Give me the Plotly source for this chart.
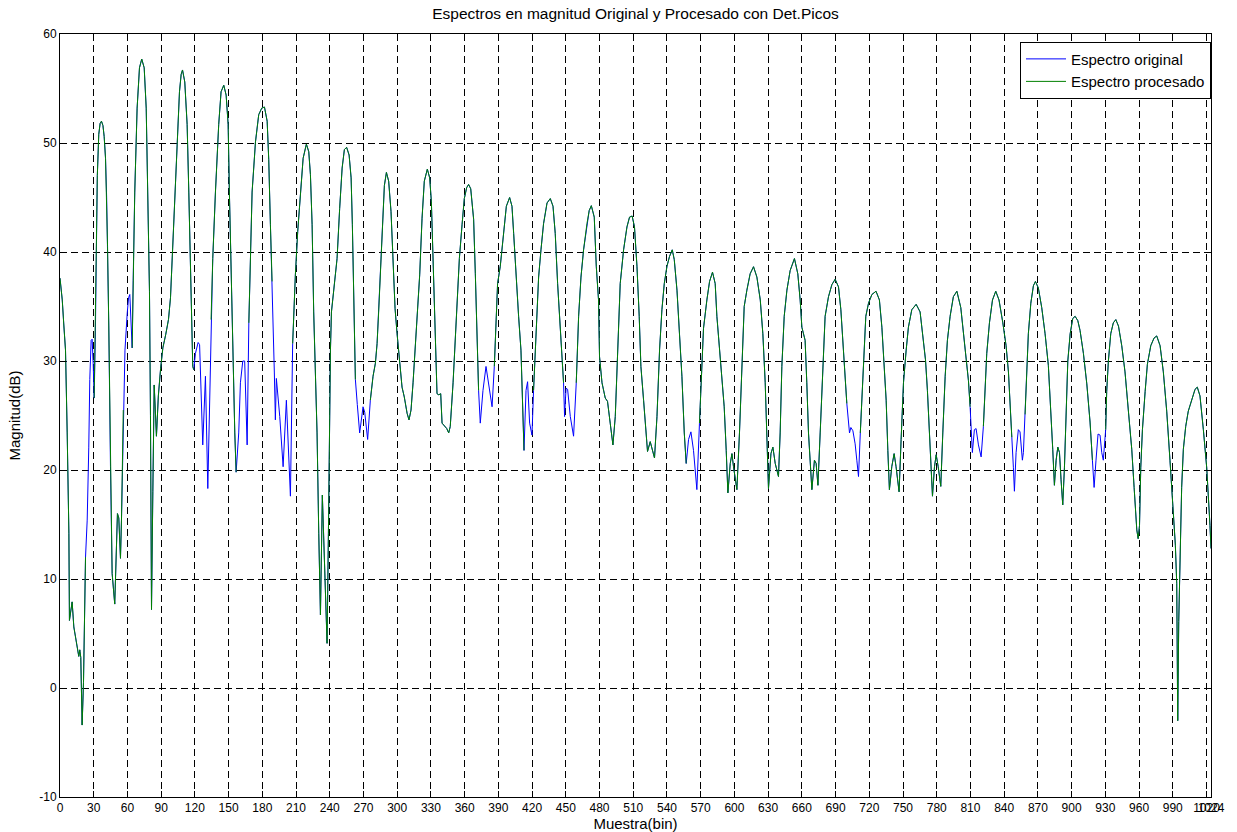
import plotly.graph_objects as go

# ---- data ----
orig_bins = [
    0, 2, 3.4, 4.9, 6.4, 7.9, 8.4, 10.8, 12.3, 14.4, 16.7, 17.6, 18.5, 19.7, 20.9, 22.7, 24.2, 25.6, 26.5, 27.7,
    28.6, 29.5, 30.4, 31.4, 32.4, 33.2, 34.5, 35.7, 36.9, 38.2, 39.3, 40.5, 41.5, 42.3, 43.4, 44.9, 46.4, 48.7,
    50, 51.1, 52.3, 53.8, 54.7, 56.3, 57.8, 59.8, 61, 62.1, 63, 64.2, 65.1, 66.5, 68.6, 70.7, 72.7, 74.9, 76.7,
    78.1, 79.6, 80.5, 81.4, 82.6, 83.8, 85.8, 87.5, 89.5, 91.5, 94, 96.5, 98.3, 101.2, 104.2, 106.3, 107.8, 109,
    111, 113.1, 114.6, 116.4, 118.1, 119, 120.5, 122.9, 124.2, 127, 129.4, 131.5, 134.4, 135.9, 138.3, 141.2,
    143.3, 145.7, 147.8, 149.6, 150.7, 152.5, 155.5, 156.7, 159, 160.5, 162.6, 164.3, 166.5, 168.0, 170.9, 173.9,
    176.8, 179.5, 181.9, 184.3, 185.7, 187.2, 188.7, 189.6, 190.7, 191.6, 192.5, 195.5, 198.5, 201.4, 205, 207,
    208.2, 209.4, 211.5, 213.9, 216.3, 219.2, 221.3, 222.8, 224.3, 225.7, 227.2, 228.7, 230.2, 231.7, 233.4,
    235.2, 237.6, 238.8, 239.7, 240.6, 241.5, 244.1, 246.5, 248.8, 251, 253, 255, 257.2, 259, 260.1, 261.5,
    262.8, 264.5, 266.6, 269.6, 271.1, 273.7, 276.1, 278.5, 280.6, 282.1, 283.5, 285, 286.8, 288.6, 290.4,
    292.4, 294.5, 296.3, 298.1, 299.9, 302.2, 304.3, 306.3, 308.8, 310.5, 312.3, 314.1, 316.1, 317.7, 320,
    322.1, 324.1, 326.8, 328.9, 330.4, 331.9, 333.3, 334.5, 335.4, 337, 338.7, 339.9, 342.2, 344.1, 345.8,
    347.2, 349.7, 351.7, 353.2, 355.3, 357.7, 359.7, 361.8, 363.5, 365.4, 368, 369.5, 371, 372.4, 373.9, 376.3,
    379, 381.3, 384.4, 386.4, 388.2, 389.3, 391.7, 394.7, 397.1, 400, 402.1, 403.6, 406, 408, 410.1, 411.6,
    412.8, 414.6, 416, 417.8, 419.9, 421.3, 422.9, 424.4, 425.8, 427.9, 430.2, 433.3, 436.2, 438.6, 440.6,
    442.7, 444.5, 446.6, 448, 448.9, 450.2, 451.6, 454, 456.9, 459.3, 461.4, 463.5, 465.8, 468.8, 470.8, 472.7,
    475.3, 477.1, 479.1, 480, 482.2, 485.1, 487.1, 489.5, 491.9, 494, 496.1, 498.4, 501.4, 504.4, 506.7, 509,
    511.1, 513.3, 515.3, 516.8, 519.2, 521.3, 522.7, 525.1, 527.5, 528.9, 531.1, 533.4, 535.5, 537.6, 540,
    542.3, 544.7, 546.5, 548.9, 551.2, 553.3, 555.4, 557.1, 559.2, 561.3, 563.6, 566.6, 568.9, 570.2, 572.5,
    575.5, 577.9, 580.5, 582.9, 584.4, 586.7, 588.9, 590.9, 592.7, 594.2, 596.3, 597.8, 599.2, 602.2, 604.5,
    606.7, 608.7, 611.1, 614, 617, 620, 623, 625.3, 627.4, 628.9, 630.3, 632.5, 634.2, 636.3, 639.2, 640.7,
    642.2, 644.3, 646.7, 649.6, 653.4, 656.4, 658.5, 660, 662.9, 664.4, 665.9, 668.9, 671.2, 672.7, 674.3,
    676.3, 678.7, 680.7, 683.7, 686.7, 689.6, 692.6, 694.7, 697, 698.5, 700, 702.4, 703.6, 705.4, 707.4, 708.9,
    710.4, 712, 714, 715.4, 716.9, 719.3, 722.3, 726, 729, 731.2, 733.2, 735, 736.5, 737.9, 740, 742.1, 743.8,
    746.5, 748.3, 750.4, 752.8, 754.8, 757.8, 761.7, 765.2, 767.6, 770, 771.7, 773.5, 775, 776.2, 778, 779.5,
    781.3, 783.6, 785.4, 787.5, 789.5, 791.9, 794.8, 797.9, 801.4, 803.7, 806.1, 808.2, 809.7, 810.6, 811.7,
    813.5, 815, 817.1, 819.5, 821.5, 823, 824.5, 826.9, 829.6, 832.5, 835.4, 838.8, 841.7, 843.8, 845.3, 846.8,
    848.2, 849.1, 850.6, 852.6, 854.1, 856.2, 857.1, 858.6, 860.1, 861.5, 863.7, 866, 867.8, 870.4, 873.4,
    876.4, 879.3, 881.7, 883.2, 884.7, 886.2, 887.7, 889.2, 890.6, 892.1, 893.6, 895.1, 896.6, 898.7, 901,
    903.1, 905.5, 907.5, 910.5, 913.5, 916.4, 918.5, 920, 921.7, 923.5, 925.3, 926.8, 928.2, 929.1, 930.3,
    931.2, 932.7, 934.8, 937.1, 939.3, 941.7, 944.6, 947.5, 950.5, 953.5, 955.6, 958, 959.2, 960.4, 961.5, 963,
    965.4, 967.4, 970.4, 973.3, 975.7, 978.7, 981.6, 984.6, 987.5, 990.5, 992.3, 993.5, 994.4, 995.3, 996.4,
    997.9, 999.4, 1001.5, 1003.8, 1006.8, 1009.8, 1011.8, 1014.2, 1017.2, 1020.2, 1023.1, 1024,
]

orig_mag = [
    37.6, 35.6, 33.3, 31, 23.4, 14.2, 6.2, 7.9, 5.6, 4.4, 2.9, 3.5, 2.8, -3.4, 0.5, 12.0, 15.4, 22.1, 28.3, 31.9,
    32, 29.8, 26.6, 32, 41, 47, 50.8, 51.8, 52, 51.6, 50.6, 48.6, 45, 40.5, 33.3, 20.3, 10.5, 7.7,
    11.7, 16, 15.6, 11.9, 15.4, 25.5, 31, 34.4, 35.8, 36.1, 34.5, 31.2, 37.4, 45.5, 53.2, 56.9, 57.7, 56.9, 53.2,
    45.5, 36.4, 25, 7.2, 18, 27.8, 23.1, 26.8, 29.3, 31.2, 32.4, 33.8, 35.8, 42.5, 48.6, 54.7, 56.3, 56.7,
    55.6, 51.7, 45.5, 36, 29.5, 29.2, 30.7, 31.7, 31.5, 22.3, 28.6, 18.3, 33.8, 39.4, 45.5, 51.7,
    54.7, 55.3, 54.4, 51.7, 45.5, 36, 23.4, 19.8, 23.4, 28, 30, 30, 22.3, 33.5, 45.5, 50.1,
    52.6, 53.2, 53.3, 52, 48.5, 42.5, 37.3, 34, 28.9, 24.6, 28.4, 24.9, 20.3, 26.4, 17.6, 31.6,
    35.6, 37.9, 41.9, 45.5, 48.6, 49.9, 49.2, 47.1, 42.5, 34.5, 29.5, 23.4, 14.2, 6.7, 17.7,
    11.1, 4.1, 14.2, 23.4, 31, 34.5, 37.3, 39.4, 44, 47.7, 49.4, 49.6, 48.9, 46.8, 42.5, 33,
    28.3, 26, 23.4, 25.8, 25.3, 22.8, 26.4, 28.6, 29.8, 31.6, 34.5, 37.9, 42.5, 46.1, 47.3,
    46.5, 43.7, 39.4, 34.8, 32.5, 30.1, 27.6, 26.7, 25.2, 24.6, 25.5, 28, 31.6, 34.5, 37.9,
    43.1, 46.5, 47.6, 46.8, 44.6, 39.4, 33.3, 29.5, 27, 26.9, 27, 24.3, 24, 23.8, 23.4,
    24, 28, 32.5, 35, 39.4, 42.5, 44.9, 45.9, 46.2, 45.8, 43, 38, 31, 27.3, 24.3, 27.3,
    29.5, 28, 25.8, 29.5, 35.6, 37.1, 38.7, 41.7, 44.2, 45, 44.2, 41.7, 37.1, 34.1, 31, 26.4,
    21.8, 27.3, 28.1, 24.3, 23.2, 27.3, 31, 35.6, 37.7, 40.2, 42.6, 44.5, 44.9, 44.2, 41.7,
    37.1, 34.1, 30.4, 28, 24.9, 27.5, 27.4, 24.9, 23.1, 28, 34.1, 37.7, 40.2, 42.6, 43.8, 44.25,
    43.2, 38.7, 35.6, 30.4, 28, 26.6, 26.3, 24.3, 22.3, 24.9, 31, 37.1, 40.2, 42.3, 43.2, 43.3,
    42.3, 38.7, 34.1, 29.5, 26.4, 23.4, 21.7, 22.6, 21.5, 21.1, 24.9, 31, 34.7, 37.1, 38.7,
    39.6, 40.2, 39.3, 36.5, 32.5, 28.6, 23.4, 20.6, 22.8, 23.5, 21.8, 18.2, 24.3, 28, 33,
    35.6, 37.3, 38.15, 37.1, 34.1, 31, 28.9, 25.8, 21.8, 17.9, 20.6, 21.5, 20.3, 18.2, 23.4,
    29.5, 35, 36.5, 38, 38.65, 37.7, 35.6, 32.5, 28, 23.4, 18.3, 21.5, 22.1, 20.6, 19.4, 23.4,
    29.5, 34.1, 36.5, 38.3, 39.4, 38, 35.6, 33.1, 31.9, 28, 23.4, 18.2, 20.9, 20.6, 18.6,
    23.4, 29.5, 34.1, 35.9, 37, 37.5, 36.8, 34.7, 31, 28.6, 26.1, 23.4, 23.9, 23.6, 22.4, 20.9,
    19.4, 23.4, 28, 31.9, 34.1, 35.3, 36.1, 36.4, 35.6, 33.1, 29.5, 26.4, 21.8, 18.2, 20.3, 21.5, 20.3,
    18, 22.8, 28, 31, 33.1, 34.7, 35.2, 34.5, 32.5, 30.1, 27.3, 23.4, 19.7, 17.6, 20.3, 21.4,
    20.3, 18.5, 23.4, 28.6, 31.9, 34.1, 35.9, 36.4, 34.9, 32.8, 30.7, 28.2, 25.8, 23.7, 21.6,
    23.7, 23.8, 22.3, 21.2, 24, 27.9, 30.7, 33.5, 35.6, 36.4, 35.6, 33.5, 31.4, 29, 26.5, 23,
    20.2, 18.05, 21.6, 23.7, 23.5, 20.9, 21.6, 25.1, 29, 32.5, 35.3, 36.9, 37.3, 36.7, 34.9,
    32.5, 29.6, 25.4, 21.9, 18.6, 20.9, 22.1, 21.6, 19.1, 16.8, 20.2, 25.4, 30, 32.5, 33.9,
    34.1, 33.7, 32.8, 30.7, 27.9, 24.4, 20.9, 18.4, 20.9, 23.3, 23.2, 21.6, 20.9, 22.3, 23.7,
    27.2, 30, 32.5, 33.5, 33.8, 33.2, 31.4, 29, 25.4, 21.9, 18.4, 14.5, 13.7, 14.9, 20.2, 23.7,
    27.2, 29.7, 31.4, 32.1, 32.3, 31.4, 29, 25.4, 20.9, 15.9, 13.1, 9.6, -3.0, 6.1, 13.1,
    18.4, 21.9, 24, 25.4, 26.5, 27.4, 27.6, 26.8, 23.7, 20.2, 14.9, 12.8,
]

# bin ranges (exclusive) where the processed spectrum has no value (blue shows alone)
proc_gaps = [
    (22.7, 30.4), (56.3, 64.2), (119, 134.4), (156.7, 168.0), (188.7, 207),
    (262.8, 276.1), (372.4, 386.4), (412.8, 421.3), (448, 459.3), (557.1, 568.9),
    (700, 712), (809.7, 821.5), (846.8, 858.6), (918.5, 930.3),
]

x_ticks = list(range(0, 1021, 30)) + [1024]
y_ticks = list(range(-10, 61, 10))

title_text = "Espectros en magnitud Original y Procesado con Det.Picos"
x_title = "Muestra(bin)"
y_title = "Magnitud(dB)"
names = ["Espectro original", "Espectro procesado"]

# ---- build processed series ----
proc_mag = []
for b, m in zip(orig_bins, orig_mag):
    if any(a < b < e for a, e in proc_gaps):
        proc_mag.append(None)
    else:
        proc_mag.append(m)

font_family = "Liberation Sans, Arial, sans-serif"
label_size = 15

fig = go.Figure()
fig.add_trace(go.Scatter(x=orig_bins, y=orig_mag, mode="lines", name=names[0],
                         line=dict(color="#0000FF", width=1)))
fig.add_trace(go.Scatter(x=orig_bins, y=proc_mag, mode="lines", name=names[1],
                         connectgaps=False, line=dict(color="#008000", width=1)))

axis_common = dict(
    showgrid=True, gridcolor="#000000", gridwidth=1, griddash="7px,4px",
    showline=True, linecolor="#000000", linewidth=1, mirror="ticks",
    ticks="inside", ticklen=6, tickcolor="#000000", zeroline=False,
    automargin=False,
    tickfont=dict(family=font_family, size=12, color="#000000"),
)

fig.update_layout(
    width=1237, height=832, autosize=False,
    margin=dict(l=60, r=26, t=34, b=35, pad=0),
    paper_bgcolor="white", plot_bgcolor="white",
    font=dict(family=font_family, size=12, color="#000000"),
    title=dict(text=title_text, x=0.5, xref="paper", xanchor="center",
               y=1 - 14 / 832, yref="container", yanchor="middle",
               font=dict(family=font_family, size=15.5, color="#000000")),
    xaxis=dict(range=[0, 1024], tickvals=x_ticks, ticktext=[str(v) for v in x_ticks],
               tickangle=0,
               title=dict(text=x_title, standoff=3,
                          font=dict(family=font_family, size=label_size, color="#000000")),
               **axis_common),
    yaxis=dict(range=[-10, 60], tickvals=y_ticks, ticktext=[str(v) for v in y_ticks],
               title=dict(text=y_title, standoff=15,
                          font=dict(family=font_family, size=label_size, color="#000000")),
               **axis_common),
    showlegend=True,
    legend=dict(x=1.0, y=0.99, xanchor="right", yanchor="top",
                bgcolor="white", bordercolor="#000000", borderwidth=1,
                font=dict(family=font_family, size=15, color="#000000"),
                tracegroupgap=0, itemwidth=40),
)

fig.write_html("out.html",
               config={"displayModeBar": False},
               post_script="document.body.style.margin='0px';document.body.style.padding='0px';")
